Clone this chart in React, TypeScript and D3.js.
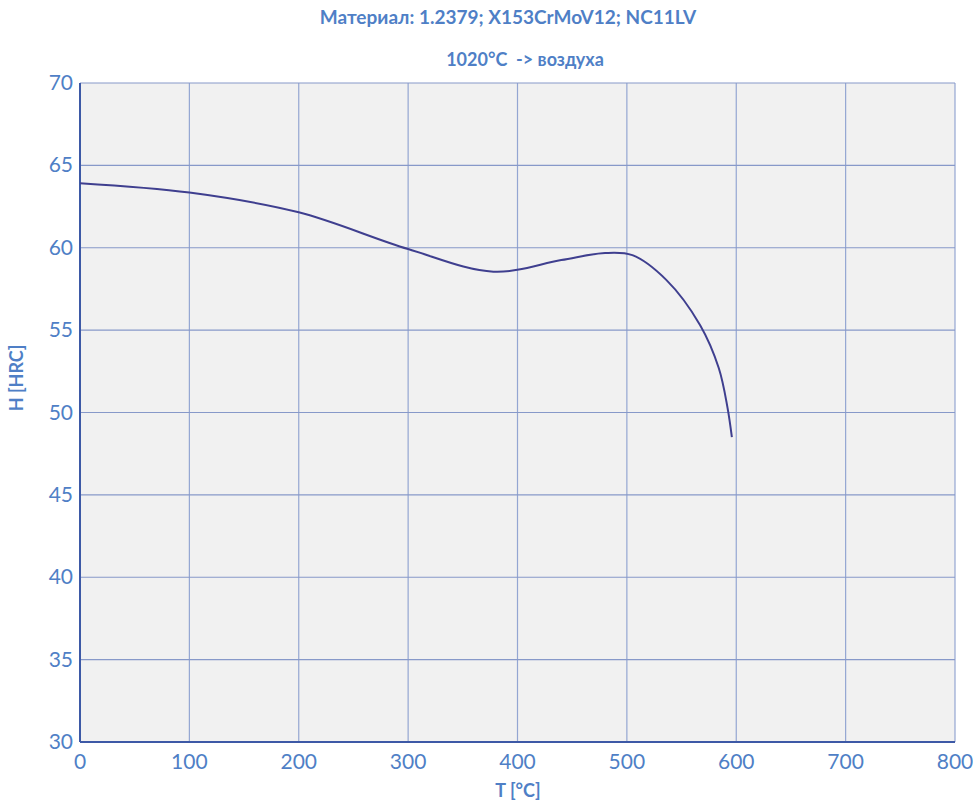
import React from "react";
import * as d3 from "d3";

const temps = [0, 100, 200, 300, 378, 440, 480, 505, 536, 567, 584, 592, 596];
const hardness = [63.92, 63.35, 62.15, 59.92, 58.55, 59.25, 59.68, 59.55, 58.05, 55.3, 52.7, 50.3, 48.5];
const xTicks = [0, 100, 200, 300, 400, 500, 600, 700, 800];
const yTicks = [30, 35, 40, 45, 50, 55, 60, 65, 70];
const title1 = "Материал: 1.2379; X153CrMoV12; NC11LV";
const title2 = "1020°C  -> воздуха";

export default function App() {
  const W = 973, H = 802;
  const L = 80, R = 955, T = 83, B = 742;
  const x = d3.scaleLinear().domain([0, 800]).range([L, R]);
  const y = d3.scaleLinear().domain([30, 70]).range([B, T]);
  const pts = temps.map((t, i) => [t, hardness[i]] as [number, number]);
  const line = d3.line<[number, number]>().x(d => x(d[0])).y(d => y(d[1])).curve(d3.curveCatmullRom.alpha(0.5));
  const tc = "#4f7fc6";
  const font = "Lato, 'Open Sans', sans-serif";
  return (
    <svg width={W} height={H} style={{ position: "absolute", left: 0, top: 0, display: "block" }} fontFamily={font}>
      <rect x={0} y={0} width={W} height={H} fill="#ffffff" />
      <text x={508} y={24} textAnchor="middle" fontSize={19} fontWeight="bold" fill={tc}>{title1}</text>
      <text x={525} y={66} textAnchor="middle" fontSize={18} fontWeight="bold" fill={tc} style={{ whiteSpace: "pre" }}>{title2}</text>
      <rect x={L} y={T} width={R - L} height={B - T} fill="#f1f1f1" />
      {xTicks.map(t => (
        <line key={"gx" + t} x1={x(t)} x2={x(t)} y1={T} y2={B} stroke="#94a6d2" strokeWidth={1.2} />
      ))}
      {yTicks.map(t => (
        <line key={"gy" + t} x1={L} x2={R} y1={y(t)} y2={y(t)} stroke="#8799c9" strokeWidth={1.2} />
      ))}
      <line x1={L} x2={L} y1={T} y2={B} stroke="#3d59a6" strokeWidth={2} />
      <line x1={L} x2={R} y1={B} y2={B} stroke="#3d59a6" strokeWidth={2} />
      <path d={line(pts) || ""} fill="none" stroke="#3f3f8f" strokeWidth={2} />
      {yTicks.map(t => (
        <text key={"ty" + t} x={73} y={y(t) + 7} textAnchor="end" fontSize={21} fill={tc}>{t}</text>
      ))}
      {xTicks.map(t => (
        <text key={"tx" + t} x={x(t)} y={769} textAnchor="middle" fontSize={21} fill={tc}>{t}</text>
      ))}
      <text x={518} y={797} textAnchor="middle" fontSize={18} fontWeight="bold" fill={tc}>T [°C]</text>
      <text transform={`translate(23, 378) rotate(-90)`} textAnchor="middle" fontSize={18} fontWeight="bold" fill={tc}>H [HRC]</text>
    </svg>
  );
}
